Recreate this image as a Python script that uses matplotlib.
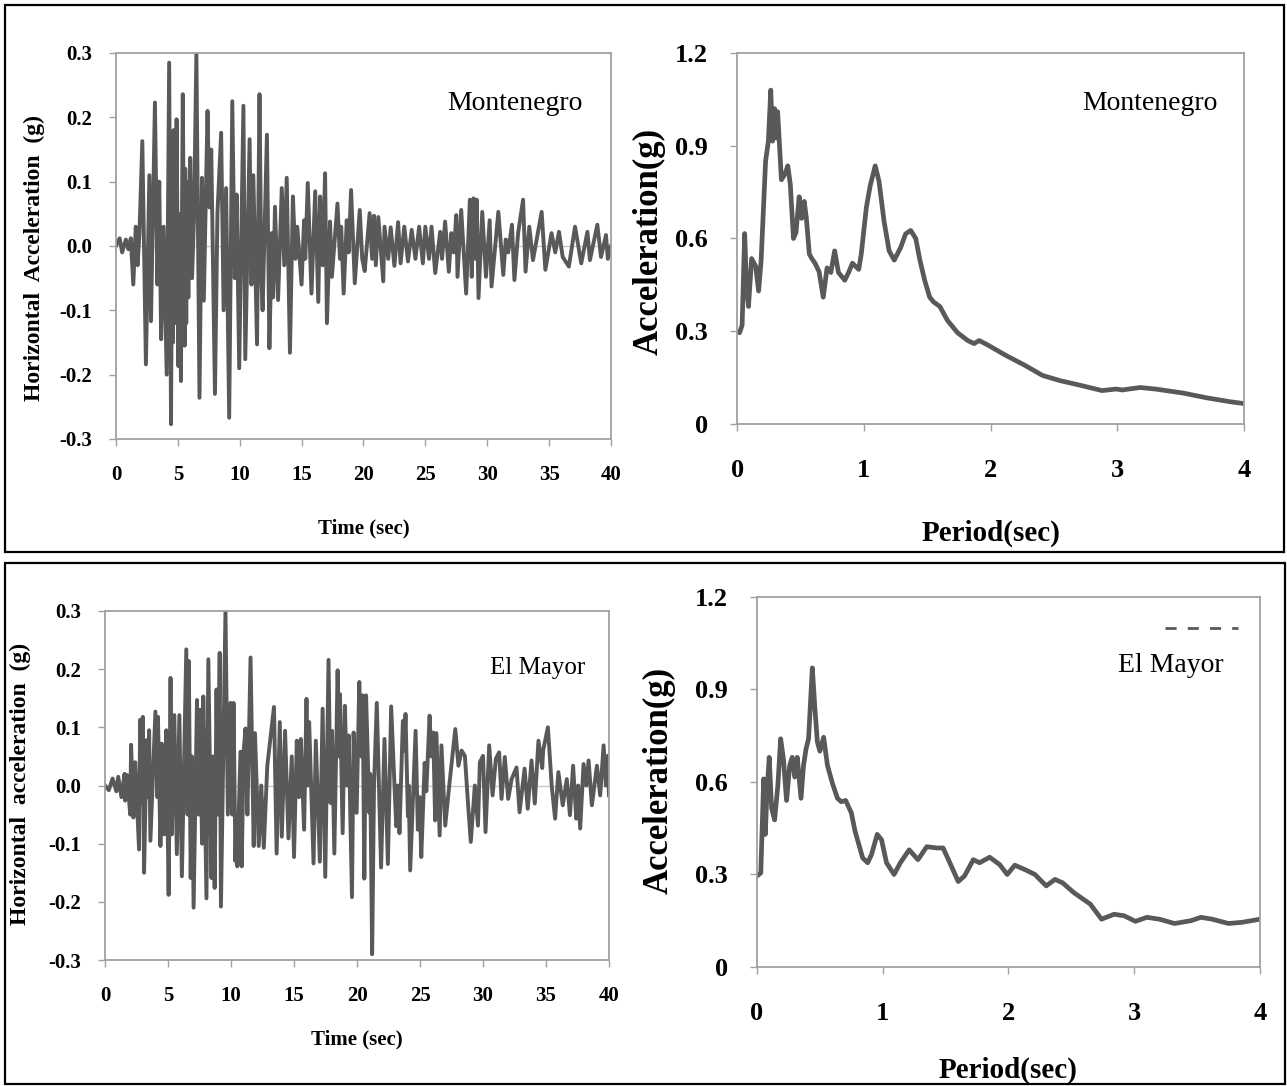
import numpy as np
import matplotlib
matplotlib.use("Agg")
import matplotlib.pyplot as plt
from matplotlib.patches import Rectangle
from matplotlib.lines import Line2D

plt.rcParams['font.family'] = ['Liberation Serif', 'DejaVu Serif']

LINE = '#595959'
SPINE = '#a0a0a0'

# ---- Montenegro acceleration time history (extrema) ----
t_mont = [0.0, 0.3, 0.5, 0.8, 1.0, 1.2, 1.4, 1.6, 1.75, 1.9, 2.13, 2.42, 2.7, 2.83, 3.15, 3.35, 3.5,
          3.65, 3.85, 4.1, 4.3, 4.45, 4.55, 4.6, 4.65, 4.75, 4.82, 4.86, 4.9, 5.05, 5.15, 5.25,
          5.4, 5.55, 5.6, 5.68, 5.75, 5.85, 6.0, 6.15, 6.3, 6.5, 6.75, 6.95, 7.1, 7.4, 7.55, 7.7,
          8.0, 8.2, 8.5, 8.7, 8.9, 9.15, 9.4, 9.6, 9.75, 9.96, 10.3, 10.45, 10.8, 10.95, 11.1,
          11.4, 11.6, 11.75, 11.85, 12.2, 12.4, 12.6, 12.7, 12.85, 13.1, 13.4, 13.6, 13.8, 14.06,
          14.3, 14.5, 14.65, 15.0, 15.2, 15.3, 15.5, 15.8, 16.1, 16.35, 16.5, 16.7, 16.9, 17.05,
          17.3, 17.45, 17.9, 18.1, 18.2, 18.4, 18.65, 18.8, 19.0, 19.3, 19.7, 19.9, 20.1, 20.5,
          20.7, 20.85, 21.0, 21.2, 21.6, 21.7, 22.0, 22.2, 22.5, 22.8, 23.0, 23.3, 23.6, 23.9,
          24.2, 24.5, 24.8, 25.0, 25.3, 25.5, 25.8, 26.2, 26.35, 26.6, 26.9, 27.1, 27.3, 27.5,
          27.6, 27.9, 28.3, 28.6, 28.75, 28.9, 29.05, 29.15, 29.3, 29.6, 29.9, 30.2, 30.35, 30.9,
          31.3, 31.5, 31.7, 32.0, 32.2, 32.5, 32.9, 33.1, 33.4, 33.7, 34.4, 34.7, 35.2, 35.5,
          35.8, 36.1, 36.6, 37.1, 37.6, 38.1, 38.3, 38.9, 39.2, 39.6, 39.75, 40.0]
a_mont = [0.0, 0.012, -0.01, 0.01, -0.005, 0.012, -0.06, 0.03, -0.03, 0.02, 0.163, -0.184, 0.11,
          -0.117, 0.223, -0.06, 0.1, -0.145, 0.03, -0.2, 0.285, -0.277, 0.1, -0.15, 0.18, -0.12,
          0.12, -0.1, 0.197, -0.187, 0.05, -0.21, 0.236, -0.155, 0.12, -0.12, 0.1, -0.08, 0.137,
          -0.05, 0.04, 0.3, -0.236, 0.106, -0.085, 0.21, 0.06, 0.15, -0.23, 0.05, 0.176, -0.1,
          0.09, -0.267, 0.225, -0.05, 0.08, -0.19, 0.218, -0.176, 0.166, -0.06, 0.11, -0.153,
          0.236, -0.05, -0.1, 0.173, -0.159, 0.02, -0.08, 0.061, -0.084, 0.09, -0.03, 0.106,
          -0.166, 0.077, -0.02, 0.03, -0.06, 0.04, -0.02, 0.098, -0.074, 0.085, -0.087, 0.077,
          -0.03, 0.113, -0.12, 0.038, -0.048, 0.066, -0.02, 0.03, -0.074, 0.04, -0.01, 0.087,
          -0.058, 0.056, -0.02, -0.039, 0.051, -0.02, 0.047, -0.03, 0.045, -0.055, 0.03, -0.02,
          0.029, -0.031, 0.037, -0.027, 0.03, -0.024, 0.025, -0.02, 0.03, -0.027, 0.03, -0.02,
          0.03, -0.042, 0.022, -0.02, 0.038, -0.04, 0.02, -0.01, 0.048, -0.048, 0.056, -0.074,
          0.072, -0.048, 0.074, -0.02, 0.072, -0.081, 0.053, -0.048, 0.04, -0.063, 0.053, -0.045,
          0.01, -0.01, 0.033, -0.053, 0.02, 0.072, -0.04, 0.03, -0.022, 0.053, -0.037, 0.02,
          -0.01, 0.022, -0.017, -0.032, 0.03, -0.027, 0.022, -0.022, 0.033, -0.017, 0.017, -0.02,
          0.0]

# ---- El Mayor acceleration time history ----
t_elm = [0.0, 0.3, 0.6, 0.9, 1.05, 1.3, 1.55, 1.6, 1.75, 2.0, 2.07, 2.25, 2.4, 2.7, 2.79, 2.95,
         3.0, 3.1, 3.3, 3.45, 3.5, 3.6, 4.0, 4.15, 4.2, 4.4, 4.5, 4.7, 4.86, 5.05, 5.2, 5.3, 5.5,
         5.7, 5.9, 6.1, 6.45, 6.55, 6.65, 6.8, 6.9, 7.03, 7.3, 7.45, 7.55, 7.7, 7.8, 8.05, 8.2,
         8.45, 8.55, 8.7, 8.85, 8.95, 9.1, 9.2, 9.56, 9.75, 9.96, 10.1, 10.2, 10.35, 10.42, 10.5,
         10.75, 10.85, 11.0, 11.15, 11.3, 11.55, 11.8, 11.9, 12.2, 12.4, 12.6, 12.88, 13.41,
         13.62, 13.87, 14.03, 14.29, 14.56, 14.82, 15.0, 15.22, 15.4, 15.54, 15.8, 15.99, 16.1,
         16.2, 16.55, 16.73, 17.05, 17.27, 17.48, 17.74, 17.9, 18.01, 18.2, 18.46, 18.6, 18.65,
         18.86, 19.04, 19.2, 19.34, 19.6, 19.73, 19.97, 20.18, 20.35, 20.45, 20.58, 20.72, 20.98,
         21.05, 21.2, 21.35, 21.57, 21.91, 22.18, 22.45, 22.71, 23.11, 23.25, 23.37, 23.64, 23.75,
         23.85, 24.04, 24.1, 24.22, 24.65, 24.83, 24.97, 25.1, 25.37, 25.5, 25.76, 25.9, 26.05,
         26.2, 26.3, 26.56, 26.7, 27.0, 27.35, 27.8, 28.05, 28.3, 28.56, 28.82, 29.03, 29.35,
         29.6, 29.75, 30.0, 30.2, 30.49, 30.76, 31.02, 31.28, 31.47, 31.73, 32.0, 32.27, 32.66,
         32.9, 33.3, 33.55, 33.85, 34.11, 34.4, 34.7, 34.77, 35.15, 35.45, 35.72, 35.98, 36.33,
         36.65, 36.9, 37.15, 37.4, 37.55, 37.71, 37.98, 38.2, 38.38, 38.64, 39.04, 39.3, 39.57,
         39.75, 39.89, 40.0]
a_elm = [0.0, -0.008, 0.012, -0.01, 0.015, -0.02, 0.02, -0.026, 0.018, -0.05, 0.07, -0.055, 0.04,
         -0.11, 0.113, -0.03, 0.118, -0.15, 0.078, -0.02, 0.095, -0.095, 0.127, -0.02, 0.118,
         -0.104, 0.072, -0.084, 0.095, -0.188, 0.185, -0.084, 0.121, -0.118, 0.121, -0.156, 0.234,
         -0.05, 0.214, -0.159, 0.05, -0.21, 0.147, -0.05, 0.13, -0.1, 0.153, -0.194, 0.217, -0.159,
         0.05, -0.176, 0.165, -0.05, 0.228, -0.208, 0.3, -0.05, 0.142, -0.05, 0.142, -0.13, -0.05,
         -0.139, 0.058, -0.139, 0.058, 0.098, -0.05, 0.22, -0.104, 0.09, -0.104, 0.0, -0.107, 0.034,
         0.135, -0.117, 0.109, -0.088, 0.094, -0.091, 0.05, -0.123, 0.077, -0.02, 0.08, -0.076,
         0.149, 0.0, 0.109, -0.134, 0.077, -0.131, 0.132, -0.157, 0.216, -0.03, 0.094, -0.117,
         0.198, 0.05, 0.157, -0.082, 0.137, 0.0, 0.086, -0.192, 0.091, -0.047, 0.178, 0.05, 0.155,
         -0.16, 0.155, -0.047, 0.02, -0.29, 0.0, 0.142, -0.141, 0.08, -0.135, 0.136, -0.07, 0.0,
         -0.082, 0.111, 0.06, 0.123, -0.053, 0.0, -0.146, 0.094, -0.076, -0.02, -0.123, 0.039,
         -0.01, 0.12, 0.05, 0.091, -0.06, 0.09, -0.086, 0.069, -0.069, 0.006, 0.097, 0.034, 0.06,
         0.051, -0.034, -0.097, 0.0, -0.069, 0.04, 0.051, -0.08, 0.069, -0.017, 0.046, 0.057,
         -0.023, 0.049, -0.023, 0.011, 0.031, -0.046, 0.029, -0.04, 0.043, -0.031, 0.077, 0.03,
         0.06, 0.1, 0.0, -0.057, 0.023, -0.034, 0.011, -0.051, 0.034, -0.057, 0.0, -0.074, 0.037,
         0.0, 0.043, -0.034, 0.034, -0.017, 0.069, 0.0, 0.051, -0.017]

# ---- Response spectra ----
T_mont = [0.0, 0.02, 0.04, 0.06, 0.075, 0.09, 0.115, 0.147, 0.17, 0.19, 0.225, 0.247, 0.266, 0.28,
          0.297, 0.31, 0.32, 0.35, 0.38, 0.40, 0.42, 0.445, 0.465, 0.49, 0.51, 0.53, 0.547, 0.57,
          0.59, 0.615, 0.647, 0.68, 0.71, 0.74, 0.77, 0.80, 0.85, 0.88, 0.91, 0.96, 0.98, 1.02,
          1.05, 1.09, 1.12, 1.16, 1.20, 1.24, 1.29, 1.33, 1.37, 1.41, 1.44, 1.48, 1.52, 1.55,
          1.60, 1.66, 1.74, 1.82, 1.87, 1.91, 1.98, 2.12, 2.27, 2.41, 2.55, 2.71, 2.88, 2.99,
          3.04, 3.18, 3.30, 3.52, 3.70, 3.89, 4.0]
Sa_mont = [0.30, 0.295, 0.32, 0.616, 0.44, 0.38, 0.535, 0.51, 0.43, 0.53, 0.85, 0.915, 1.08, 0.915,
           1.02, 0.925, 1.01, 0.79, 0.81, 0.835, 0.776, 0.60, 0.62, 0.735, 0.665, 0.72, 0.665, 0.55,
           0.535, 0.52, 0.493, 0.41, 0.505, 0.49, 0.56, 0.49, 0.465, 0.49, 0.52, 0.50, 0.55, 0.70,
           0.77, 0.835, 0.785, 0.655, 0.56, 0.53, 0.57, 0.615, 0.626, 0.60, 0.535, 0.465, 0.41,
           0.395, 0.38, 0.335, 0.295, 0.27, 0.26, 0.27, 0.255, 0.222, 0.19, 0.157, 0.14, 0.125,
           0.108, 0.113, 0.11, 0.118, 0.113, 0.10, 0.085, 0.072, 0.066]

T_elm = [0.0, 0.03, 0.053, 0.066, 0.078, 0.097, 0.116, 0.14, 0.166, 0.188, 0.21, 0.235, 0.26, 0.28,
         0.30, 0.32, 0.35, 0.37, 0.39, 0.41, 0.44, 0.46, 0.48, 0.50, 0.53, 0.56, 0.60, 0.64, 0.67,
         0.705, 0.75, 0.78, 0.84, 0.88, 0.91, 0.956, 0.99, 1.03, 1.09, 1.14, 1.21, 1.28, 1.35,
         1.43, 1.48, 1.54, 1.60, 1.65, 1.72, 1.77, 1.85, 1.93, 1.99, 2.05, 2.13, 2.21, 2.30, 2.37,
         2.43, 2.52, 2.65, 2.74, 2.84, 2.92, 3.01, 3.10, 3.20, 3.32, 3.45, 3.53, 3.62, 3.75, 3.86,
         4.0]
Sa_elm = [0.295, 0.305, 0.61, 0.43, 0.557, 0.68, 0.515, 0.477, 0.59, 0.74, 0.675, 0.54, 0.654, 0.68,
          0.616, 0.68, 0.547, 0.654, 0.707, 0.74, 0.97, 0.84, 0.73, 0.70, 0.745, 0.654, 0.595, 0.547,
          0.536, 0.54, 0.50, 0.44, 0.354, 0.338, 0.364, 0.43, 0.413, 0.338, 0.30, 0.338, 0.38, 0.348,
          0.39, 0.386, 0.386, 0.332, 0.277, 0.295, 0.348, 0.338, 0.356, 0.332, 0.30, 0.33, 0.316,
          0.30, 0.263, 0.284, 0.273, 0.241, 0.204, 0.155, 0.171, 0.166, 0.148, 0.161, 0.155, 0.141,
          0.15, 0.161, 0.155, 0.141, 0.145, 0.155]

time_ticks = [0, 5, 10, 15, 20, 25, 30, 35, 40]
acc_ticks = [0.3, 0.2, 0.1, 0.0, -0.1, -0.2, -0.3]
acc_labels = ['0.3', '0.2', '0.1', '0.0', '-0.1', '-0.2', '-0.3']
per_ticks = [0, 1, 2, 3, 4]
sa_ticks = [0, 0.3, 0.6, 0.9, 1.2]
sa_labels = ['0', '0.3', '0.6', '0.9', '1.2']

fig = plt.figure(figsize=(12.87, 10.86), dpi=100)

# panel frames
fig.patches.append(Rectangle((5 / 1287, 1 - 552 / 1086), 1279 / 1287, 547 / 1086,
                             transform=fig.transFigure, fill=False, edgecolor='black', lw=1.6))
fig.patches.append(Rectangle((5 / 1287, 1 - 1084 / 1086), 1280 / 1287, 521 / 1086,
                             transform=fig.transFigure, fill=False, edgecolor='black', lw=1.6))


def style(ax, tsize, xpad, ypad):
    for s in ax.spines.values():
        s.set_color(SPINE)
        s.set_linewidth(1.3)
    ax.tick_params(direction='out', length=5, width=1, color=SPINE, labelsize=tsize)
    ax.tick_params(axis='x', pad=xpad)
    ax.tick_params(axis='y', pad=ypad)
    for lab in ax.get_xticklabels() + ax.get_yticklabels():
        lab.set_fontweight('bold')


def time_panel(rect, t, a, ylabel, name, name_xy, name_size, ylab_xy, xlab_y):
    ax = fig.add_axes(rect)
    ax.axhline(0, color='#c8c8c8', lw=1, zorder=1)
    ax.plot(t, a, color=LINE, lw=2.8, zorder=2, solid_joinstyle='round')
    ax.set_xlim(0, 40)
    ax.set_ylim(-0.3, 0.3)
    ax.set_xticks(time_ticks)
    ax.set_yticks(acc_ticks)
    ax.set_yticklabels(acc_labels)
    style(ax, 15, 14, 12)
    ax.set_ylabel(ylabel, fontsize=17, fontweight='bold')
    ax.yaxis.set_label_coords(*ylab_xy)
    ax.set_xlabel('Time (sec)', fontsize=15, fontweight='bold')
    ax.xaxis.set_label_coords(0.5, xlab_y)
    ax.text(name_xy[0], name_xy[1], name, transform=ax.transAxes, fontsize=name_size,
            ha='center', va='center')
    return ax


def spec_panel(rect, T, Sa, name, name_xy, ylab_xy, xlab_y):
    ax = fig.add_axes(rect)
    ax.plot(T, Sa, color=LINE, lw=3.4, solid_joinstyle='round')
    ax.set_xlim(0, 4)
    ax.set_ylim(0, 1.2)
    ax.set_xticks(per_ticks)
    ax.set_yticks(sa_ticks)
    ax.set_yticklabels(sa_labels)
    style(ax, 19, 20, 16)
    ax.set_ylabel('Acceleration(g)', fontsize=25, fontweight='bold')
    ax.yaxis.set_label_coords(*ylab_xy)
    ax.set_xlabel('Period(sec)', fontsize=21, fontweight='bold')
    ax.xaxis.set_label_coords(0.5, xlab_y)
    ax.text(name_xy[0], name_xy[1], name, transform=ax.transAxes, fontsize=20,
            ha='center', va='center')
    return ax


time_panel([0.0901, 0.5958, 0.3846, 0.3554], t_mont, a_mont,
           'Horizontal  Acceleration  (g)', 'Montenegro', (0.806, 0.87), 20, (-0.143, 0.47), -0.205)
spec_panel([0.5727, 0.6096, 0.3939, 0.3416], T_mont, Sa_mont,
           'Montenegro', (0.815, 0.865), (-0.14, 0.493), -0.259)
time_panel([0.0816, 0.1160, 0.3916, 0.3214], t_elm, a_elm,
           'Horizontal  acceleration  (g)', 'El Mayor', (0.859, 0.837), 18, (-0.147, 0.504), -0.2)
ax4 = spec_panel([0.5882, 0.1096, 0.3908, 0.3407], T_elm, Sa_elm,
                 'El Mayor', (0.823, 0.816), (-0.161, 0.505), -0.243)
# leftover legend key in the El Mayor spectrum
ax4.add_line(Line2D([0.811, 0.956], [0.916, 0.916], transform=ax4.transAxes,
                    color=LINE, lw=2, ls=(0, (4, 4))))

fig.savefig('out.png', dpi=100)
